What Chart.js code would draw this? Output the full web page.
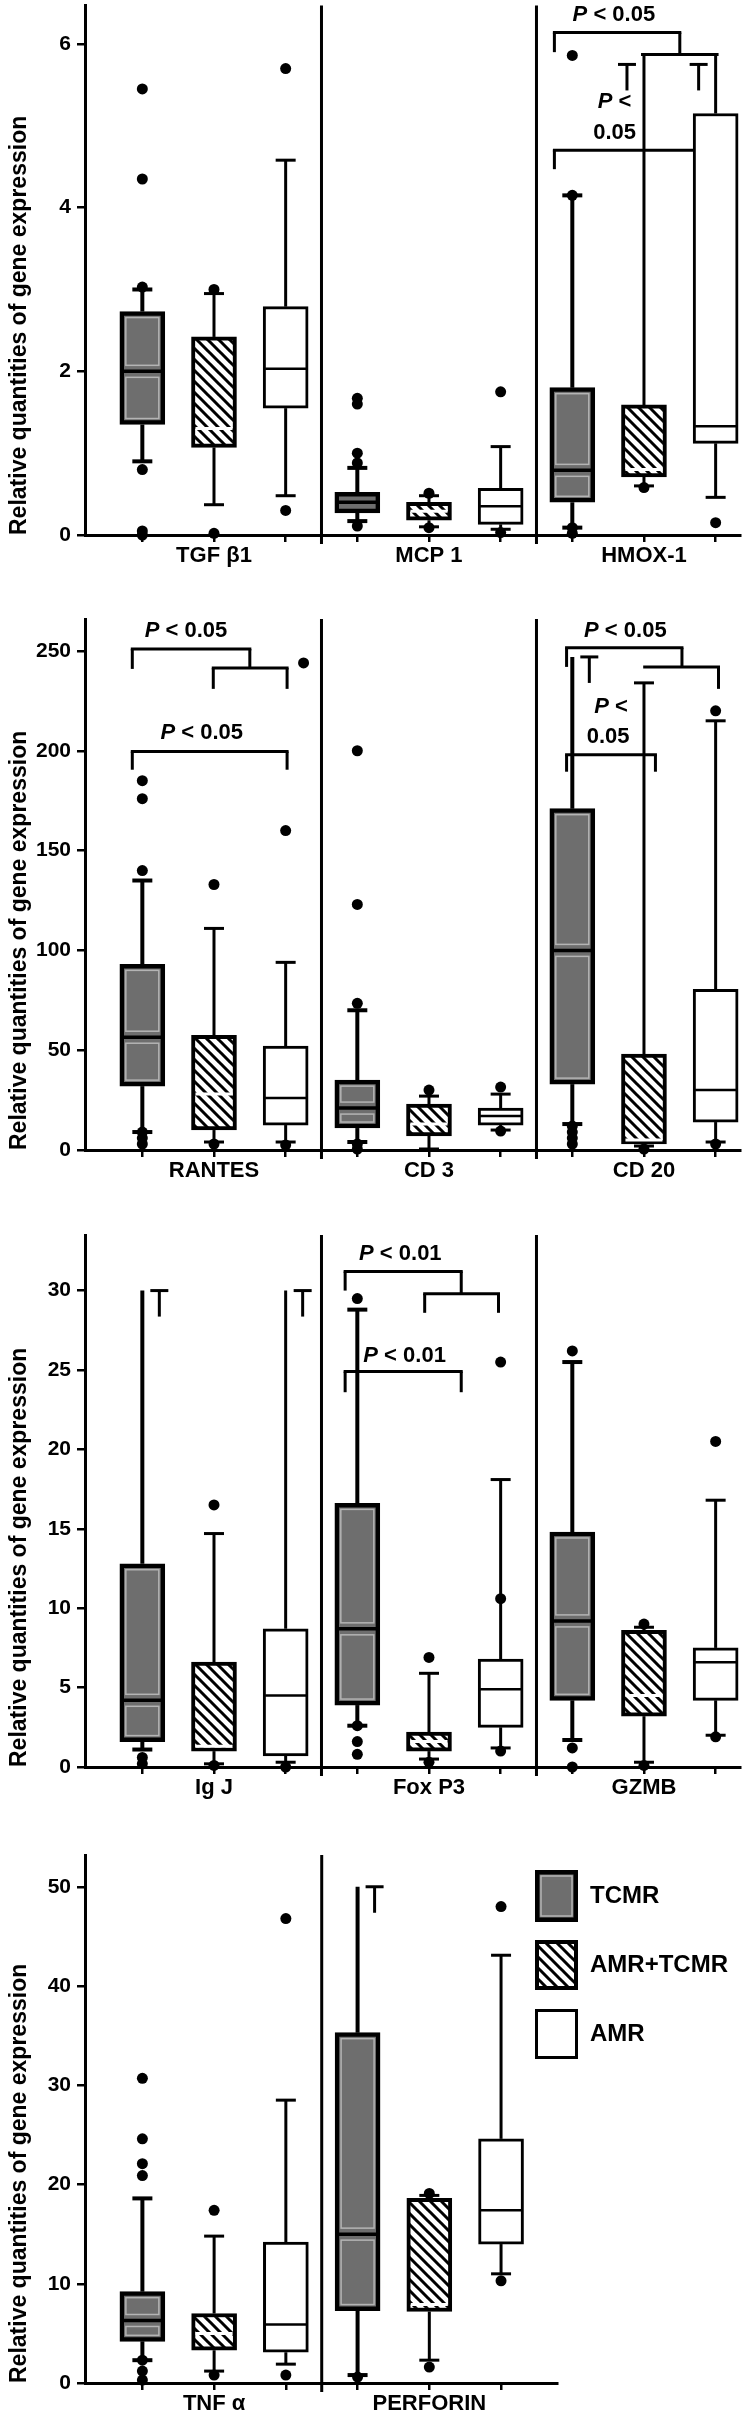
<!DOCTYPE html>
<html>
<head>
<meta charset="utf-8">
<script src="https://cdn.jsdelivr.net/npm/chart.js@4"></script>
<style>
  body { margin: 0; background: #fff; }
  #wrap { position: relative; width: 750px; height: 2426px; background: #fff; }
  canvas { position: absolute; left: 0; }
</style>
</head>
<body>
<div id="wrap">
  <canvas id="c1" width="750" height="580" style="top:0px"></canvas>
  <canvas id="c2" width="750" height="605" style="top:590px"></canvas>
  <canvas id="c3" width="750" height="607" style="top:1205px"></canvas>
  <canvas id="c4" width="750" height="600" style="top:1826px"></canvas>
</div>
<script>
// groups, in box order inside each gene
const groups = ['TCMR', 'AMR+TCMR', 'AMR'];
const yTitle = 'Relative quantities of gene expression';

// each box: [lower whisker, q1, median, q3, upper whisker]
// panel 1
const genes1 = ['TGF β1', 'MCP 1', 'HMOX-1'];
const yTicks1 = [0, 2, 4, 6];
const tcmr1 = [[0.9, 1.35, 2.0, 2.73, 3.0], [0.17, 0.27, 0.4, 0.52, 0.82], [0.09, 0.4, 0.79, 1.8, 4.15]];
const mixed1 = [[0.37, 1.07, 1.3, 2.42, 2.95], [0.1, 0.18, 0.29, 0.4, 0.48], [0.6, 0.71, 0.8, 1.59, 5.86]];
const amr1 = [[0.48, 1.55, 2.03, 2.79, 4.58], [0.07, 0.13, 0.35, 0.57, 1.08], [0.46, 1.12, 1.33, 5.15, 5.86]];
const tcmrOut1 = [[5.45, 4.35, 3.03, 0.8, 0.05, 0], [1.67, 1.6, 1.0, 0.88, 0.11], [5.86, 4.15, 0.09, 0.02]];
const mixedOut1 = [[3.0, 0.02], [0.51, 0.09], [0.58]];
const amrOut1 = [[5.7, 0.3], [1.75, 0.03], [0.15]];

// panel 2
const genes2 = ['RANTES', 'CD 3', 'CD 20'];
const yTicks2 = [0, 50, 100, 150, 200, 250];
const tcmr2 = [[9, 32, 56.5, 93, 135], [4, 11, 21, 35, 70], [13, 33, 100, 171, 247]];
const mixed2 = [[4, 10, 28, 57.5, 111], [0.5, 7, 13, 23, 27], [2, 3, 5, 48, 234]];
const amr2 = [[4, 12.5, 26, 52, 94], [10, 12.5, 17, 21, 28], [4, 14, 30, 80.5, 215]];
const tcmrOut2 = [[185, 176, 140, 9, 6, 3], [200, 123, 73.5, 3, 0.5], [12, 9, 6, 3]];
const mixedOut2 = [[133, 3], [30], [0.5]];
const amrOut2 = [[244, 160, 2.5], [31.5, 9.5], [220, 3]];

// panel 3
const genes3 = ['Ig J', 'Fox P3', 'GZMB'];
const yTicks3 = [0, 5, 10, 15, 20, 25, 30];
const tcmr3 = [[1.1, 1.6, 4.2, 12.8, 30], [2.6, 3.9, 8.7, 16.6, 28.8], [1.7, 4.2, 9.2, 14.8, 25.5]];
const mixed3 = [[0.2, 1.0, 1.3, 6.6, 14.7], [0.5, 1.0, 1.6, 2.2, 5.9], [0.3, 3.2, 4.5, 8.6, 8.8]];
const amr3 = [[0.3, 0.7, 4.5, 8.7, 30], [1.2, 2.5, 4.9, 6.8, 18.1], [2.0, 4.2, 6.6, 7.5, 16.8]];
const tcmrOut3 = [[0.6, 0.2], [29.5, 2.6, 1.6, 0.8], [26.2, 1.2, 0]];
const mixedOut3 = [[16.5, 0.1], [6.9, 0.3], [9.0, 0.1]];
const amrOut3 = [[0.0], [25.5, 10.6, 1.0], [20.5, 1.9]];

// panel 4
const genes4 = ['TNF α', 'PERFORIN'];
const yTicks4 = [0, 10, 20, 30, 40, 50];
const tcmr4 = [[2.3, 4.2, 6.3, 9.2, 18.6], [0.8, 7.3, 15.0, 35.3, 50]];
const mixed4 = [[1.2, 3.3, 5.0, 7.0, 14.8], [2.3, 7.2, 7.9, 18.6, 18.9]];
const amr4 = [[1.9, 3.1, 5.9, 14.2, 28.5], [11.0, 14.0, 17.4, 24.6, 43.1]];
const tcmrOut4 = [[30.7, 24.6, 22.1, 20.9, 2.3, 1.2, 0.3], [0.6]];
const mixedOut4 = [[17.4, 0.8], [19.1, 1.6]];
const amrOut4 = [[46.8, 0.8], [48.0, 10.3]];

// significance brackets: [x from, x to, y, left leg to, right leg to] (box index units / axis units)
const sig1 = [[5.75, 7.5, 6.14, 5.9, 5.87], [6.98, 8.02, 5.87, null, null], [5.75, 8.02, 4.7, 4.47, 4.47]];
const sigText1 = [['P < 0.05', 6.58, 6.35], ['P <', 6.59, 5.29], ['0.05', 6.59, 4.91]];
const sig2 = [[-0.14, 1.5, 251, 241, 241.5], [0.99, 2.02, 241.5, 231, 231], [-0.14, 2.02, 199.6, 190.5, 190.5],
              [5.92, 7.53, 251.6, 242, 242], [7.01, 8.04, 242, null, 231], [5.92, 7.16, 198, 189.5, 189.5]];
const sigText2 = [['P < 0.05', 0.61, 260], ['P < 0.05', 0.83, 208.7], ['P < 0.05', 6.74, 260], ['P <', 6.54, 221.8], ['0.05', 6.5, 206.7]];
const sig3 = [[2.83, 4.45, 31.2, 30.0, 29.8], [3.94, 4.97, 29.8, 28.6, 28.6], [2.83, 4.45, 24.9, 23.6, 23.6]];
const sigText3 = [['P < 0.01', 3.6, 32.3], ['P < 0.01', 3.66, 25.9]];

// off-scale whiskers marked with a "T": [box index, value, side]
const breaks1 = [[7, 5.75, -1], [8, 5.75, -1]];
const breaks2 = [[6, 247, 1]];
const breaks3 = [[0, 30, 1], [2, 30, 1]];
const breaks4 = [[3, 50, 1]];

const F = "'Liberation Sans', Arial, sans-serif";
Chart.defaults.font.family = F;
Chart.defaults.color = '#000';

// diagonal hatch for AMR+TCMR
const tile = document.createElement('canvas');
tile.width = 11; tile.height = 11;
const tg = tile.getContext('2d');
tg.fillStyle = '#fff'; tg.fillRect(0, 0, 11, 11);
tg.strokeStyle = '#000'; tg.lineWidth = 3;
tg.beginPath();
tg.moveTo(-1, -1); tg.lineTo(12, 12);
tg.moveTo(-1, 10); tg.lineTo(1, 12);
tg.moveTo(10, -1); tg.lineTo(12, 1);
tg.stroke();
const HATCH = tg.createPattern(tile, 'repeat');

const fills = ['#6e6e6e', HATCH, '#ffffff'];
const borderW = [4.5, 4, 3];
const whiskerW = [4, 3, 3];
const BOXW = 45;

const panels = [
  {id: 'c1', genes: genes1, yTicks: yTicks1, yMax: 6.47, padTop: 3, xh: 45, xMax: 8.34, padRight: 10,
   series: [tcmr1, mixed1, amr1], outs: [tcmrOut1, mixedOut1, amrOut1], sig: sig1, sigText: sigText1, breaks: breaks1, shift: []},
  {id: 'c2', genes: genes2, yTicks: yTicks2, yMax: 266, padTop: 29, xh: 45, xMax: 8.34, padRight: 10,
   series: [tcmr2, mixed2, amr2], outs: [tcmrOut2, mixedOut2, amrOut2], sig: sig2, sigText: sigText2, breaks: breaks2, shift: [[2, 244, 0.25]]},
  {id: 'c3', genes: genes3, yTicks: yTicks3, yMax: 33.5, padTop: 30, xh: 45, xMax: 8.34, padRight: 10,
   series: [tcmr3, mixed3, amr3], outs: [tcmrOut3, mixedOut3, amrOut3], sig: sig3, sigText: sigText3, breaks: breaks3, shift: []},
  {id: 'c4', genes: genes4, yTicks: yTicks4, yMax: 53.2, padTop: 29, xh: 43, xMax: 5.78, padRight: 193,
   series: [tcmr4, mixed4, amr4], outs: [tcmrOut4, mixedOut4, amrOut4], sig: [], sigText: [], breaks: breaks4, shift: [], legend: true}
];

function line(ctx, x1, y1, x2, y2) {
  ctx.beginPath(); ctx.moveTo(x1, y1); ctx.lineTo(x2, y2); ctx.stroke();
}

function sigLabel(ctx, text, cx, cy) {
  const bold = 'bold 22px ' + F, ital = 'italic bold 22px ' + F;
  ctx.textBaseline = 'middle';
  ctx.textAlign = 'left';
  ctx.fillStyle = '#000';
  if (text.startsWith('P')) {
    const rest = text.slice(1);
    ctx.font = ital; const w1 = ctx.measureText('P').width;
    ctx.font = bold; const w2 = ctx.measureText(rest).width;
    const x0 = cx - (w1 + w2) / 2;
    ctx.font = ital; ctx.fillText('P', x0, cy);
    ctx.font = bold; ctx.fillText(rest, x0 + w1, cy);
  } else {
    ctx.font = bold; ctx.textAlign = 'center'; ctx.fillText(text, cx, cy);
  }
}

function innerEdges(ctx, l, r, t, m, b) {
  ctx.strokeStyle = '#b4b4b4';
  ctx.lineWidth = 1.5;
  [[t, m], [m, b]].forEach(([a, c]) => {
    if (c - a > 14) ctx.strokeRect(l + 6, a + 6, r - l - 12, c - a - 12);
  });
}

function makeDecor(cfg) {
  const boxes = [];
  cfg.series.forEach((ser, si) => ser.forEach((b, gi) => boxes.push({pos: gi * 3 + si, si, b})));
  return {
    id: 'decor',
    beforeDatasetsDraw(chart) {
      const {ctx, chartArea: a, scales: {x, y}} = chart;
      ctx.save();
      ctx.strokeStyle = '#000';
      ctx.lineWidth = 3;
      for (let d = 2.5; d < cfg.genes.length * 3 - 1; d += 3) {
        const px = x.getPixelForValue(d);
        line(ctx, px, a.top, px, a.bottom + 9);
      }
      boxes.forEach(({pos, si, b}) => {
        const cx = x.getPixelForValue(pos);
        const [lo, q1, , q3, hi] = b.map(v => y.getPixelForValue(v));
        ctx.lineWidth = whiskerW[si];
        line(ctx, cx, q3, cx, hi);
        line(ctx, cx, q1, cx, lo);
        const broken = cfg.breaks.some(k => k[0] === pos);
        if (!broken) line(ctx, cx - 10, hi, cx + 10, hi);
        line(ctx, cx - 10, lo, cx + 10, lo);
      });
      ctx.lineWidth = 3;
      cfg.sig.forEach(([x1, x2, yy, l1, l2]) => {
        const px1 = x.getPixelForValue(x1), px2 = x.getPixelForValue(x2), py = y.getPixelForValue(yy);
        line(ctx, px1 - 1.5, py, px2 + 1.5, py);
        if (l1 !== null) line(ctx, px1, py, px1, y.getPixelForValue(l1));
        if (l2 !== null) line(ctx, px2, py, px2, y.getPixelForValue(l2));
      });
      ctx.restore();
    },
    afterDatasetsDraw(chart) {
      const {ctx, scales: {x, y}} = chart;
      ctx.save();
      boxes.forEach(({pos, si, b}) => {
        const cx = x.getPixelForValue(pos);
        const l = cx - BOXW / 2, r = cx + BOXW / 2;
        const q1 = y.getPixelForValue(b[1]), med = y.getPixelForValue(b[2]), q3 = y.getPixelForValue(b[3]);
        if (si === 0) {
          innerEdges(ctx, l, r, q3, med, q1);
          ctx.strokeStyle = '#000'; ctx.lineWidth = 3.5;
          line(ctx, l + 3, med, r - 3, med);
        } else if (si === 1) {
          ctx.strokeStyle = '#fff'; ctx.lineWidth = 3;
          line(ctx, l + 4, med, r - 4, med);
        } else {
          ctx.strokeStyle = '#000'; ctx.lineWidth = 2.5;
          line(ctx, l + 2, med, r - 2, med);
        }
      });
      ctx.strokeStyle = '#000'; ctx.lineWidth = 3;
      cfg.breaks.forEach(([pos, v, side]) => {
        const tx = x.getPixelForValue(pos) + side * 17, ty = y.getPixelForValue(v);
        line(ctx, tx - 9, ty, tx + 9, ty);
        line(ctx, tx, ty, tx, ty + 26);
      });
      cfg.sigText.forEach(([t, px, py]) => sigLabel(ctx, t, x.getPixelForValue(px), y.getPixelForValue(py)));
      if (cfg.legend) {
        const rows = [[44, 52], [114, 50], [183, 50]];
        rows.forEach(([top, h], si) => {
          const lx = 535, w = 43, bw = borderW[si];
          ctx.fillStyle = fills[si];
          ctx.fillRect(lx, top, w, h);
          if (si === 0) innerEdges(ctx, lx, lx + w, top, top + h, top + h);
          ctx.strokeStyle = '#000'; ctx.lineWidth = bw;
          ctx.strokeRect(lx + bw / 2, top + bw / 2, w - bw, h - bw);
          ctx.fillStyle = '#000';
          ctx.font = 'bold 24px ' + F;
          ctx.textAlign = 'left'; ctx.textBaseline = 'middle';
          ctx.fillText(groups[si], 590, top + h / 2);
        });
      }
      ctx.restore();
    }
  };
}

panels.forEach(cfg => {
  const dots = [];
  cfg.outs.forEach((o, si) => o.forEach((vals, gi) => vals.forEach(v => {
    const pos = gi * 3 + si;
    const s = cfg.shift.find(k => k[0] === pos && k[1] === v);
    dots.push({x: pos + (s ? s[2] : 0), y: v});
  })));
  const bars = cfg.series.map((ser, si) => ({
    type: 'bar',
    label: groups[si],
    data: ser.map((b, gi) => ({x: gi * 3 + si, y: [b[1], b[3]]})),
    backgroundColor: fills[si],
    borderColor: '#000',
    borderWidth: borderW[si],
    borderSkipped: false,
    barThickness: BOXW,
    grouped: false,
    clip: false
  }));
  const nPos = cfg.genes.length * 3;
  const xTicks = Array.from({length: nPos}, (_, i) => i);
  new Chart(document.getElementById(cfg.id), {
    type: 'scatter',
    data: {
      datasets: [{
        type: 'scatter', data: dots, pointRadius: 5.5, pointBackgroundColor: '#000',
        pointBorderWidth: 0, clip: false
      }, ...bars]
    },
    options: {
      responsive: false, animation: false, devicePixelRatio: 1, events: [],
      layout: {padding: {top: cfg.padTop, right: cfg.padRight, left: 0, bottom: 0}},
      plugins: {legend: {display: false}, tooltip: {enabled: false}},
      scales: {
        x: {
          type: 'linear', min: -0.8, max: cfg.xMax, offset: false,
          afterBuildTicks: s => { s.ticks = xTicks.map(v => ({value: v})); },
          afterFit: s => { s.height = cfg.xh; s.paddingLeft = 0; s.paddingRight = 0; },
          ticks: {
            autoSkip: false, maxRotation: 0, padding: 1, color: '#000',
            font: {size: 22, weight: 'bold'},
            callback: v => (v % 3 === 1 ? cfg.genes[(v - 1) / 3] : '')
          },
          grid: {drawOnChartArea: false, offset: false, color: '#000', lineWidth: 2.5, tickLength: 7},
          border: {color: '#000', width: 3}
        },
        y: {
          type: 'linear', min: 0, max: cfg.yMax,
          afterBuildTicks: s => { s.ticks = cfg.yTicks.map(v => ({value: v})); },
          afterFit: s => { s.width = 85; s.paddingTop = 0; s.paddingBottom = 0; },
          ticks: {padding: 6, color: '#000', font: {size: 21, weight: 'bold'}},
          grid: {drawOnChartArea: false, color: '#000', lineWidth: 2.5, tickLength: 8},
          border: {color: '#000', width: 3},
          title: {
            display: true, text: yTitle, align: 'start', color: '#000',
            font: {size: 23, weight: 'bold'}, padding: {top: 6, bottom: 0}
          }
        }
      }
    },
    plugins: [makeDecor(cfg)]
  });
});
</script>
</body>
</html>
